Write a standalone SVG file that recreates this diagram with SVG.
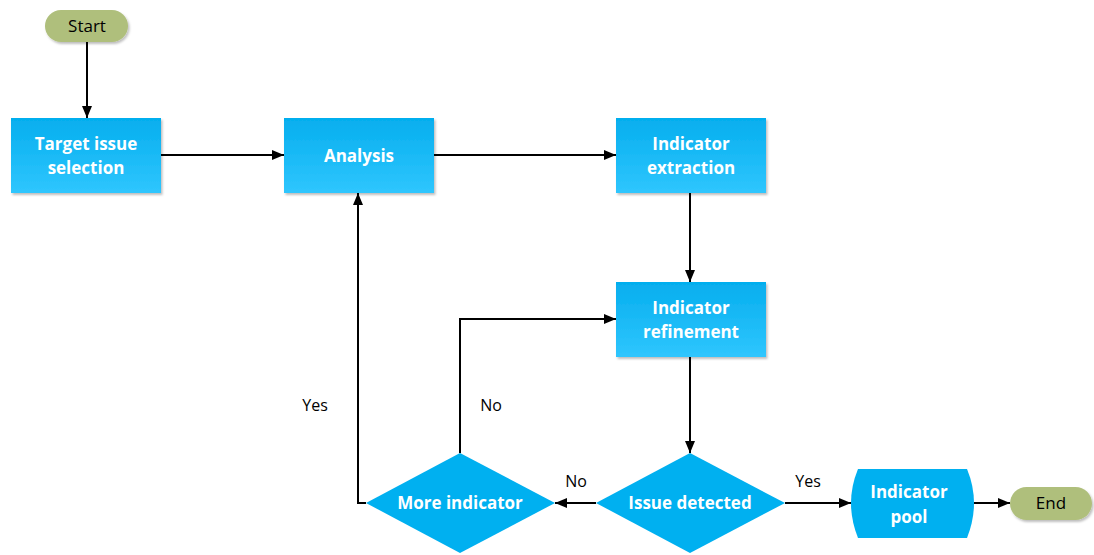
<svg xmlns="http://www.w3.org/2000/svg" width="1094" height="555" viewBox="0 0 1094 555">
  <defs>
    <linearGradient id="boxFill" x1="0" y1="0" x2="0" y2="1">
      <stop offset="0" stop-color="#05AEEE"/>
      <stop offset="1" stop-color="#2FC6FE"/>
    </linearGradient>
    <filter id="shadow" x="-20%" y="-20%" width="140%" height="160%">
      <feDropShadow dx="1.5" dy="2" stdDeviation="1.2" flood-color="#000" flood-opacity="0.25"/>
    </filter>
    <marker id="arrow" viewBox="0 0 12 10" refX="12" refY="5" markerWidth="12" markerHeight="10" markerUnits="userSpaceOnUse" orient="auto">
      <path d="M0,0 L12,5 L0,10 z" fill="#000"/>
    </marker>
  </defs>
  <style>
    .box { fill: url(#boxFill); filter: url(#shadow); }
    .dia { fill: #00B0F0; }
    .pill { fill: #AFBF7C; filter: url(#shadow); }
    .lbl { font-family: "Open Sans", "Liberation Sans", sans-serif; font-weight: 700; font-size: 17px; fill: #fff; text-anchor: middle; }
    .term { font-family: "Open Sans", "Liberation Sans", sans-serif; font-size: 17px; fill: #000; text-anchor: middle; }
    .edge { font-family: "Open Sans", "Liberation Sans", sans-serif; font-size: 16px; fill: #000; text-anchor: middle; }
    .conn { fill: none; stroke: #000; stroke-width: 2; marker-end: url(#arrow); }
  </style>

  <g id="connectors">
    <path class="conn" d="M87,42 V118"/>
    <path class="conn" d="M161,155 H284"/>
    <path class="conn" d="M434,155 H616"/>
    <path class="conn" d="M690,193 V282"/>
    <path class="conn" d="M690,357 V453"/>
    <path class="conn" d="M596,503 H555"/>
    <path class="conn" d="M785,503 H851"/>
    <path class="conn" d="M974,503 H1010"/>
    <path class="conn" d="M366,503 H358 V193"/>
    <path class="conn" d="M460,453 V319 H616"/>
    <text class="edge" x="315" y="411">Yes</text>
    <text class="edge" x="491" y="411">No</text>
    <text class="edge" x="576" y="487">No</text>
    <text class="edge" x="808" y="487">Yes</text>
  </g>

  <g id="start">
    <rect class="pill" x="45" y="10" width="83" height="32" rx="16"/>
    <text class="term" x="87" y="32">Start</text>
  </g>

  <g id="target-issue-selection">
    <rect class="box" x="11" y="118" width="150" height="75"/>
    <text class="lbl" x="86" y="150">Target issue</text>
    <text class="lbl" x="86" y="174">selection</text>
  </g>

  <g id="analysis">
    <rect class="box" x="284" y="118" width="150" height="75"/>
    <text class="lbl" x="359" y="162">Analysis</text>
  </g>

  <g id="indicator-extraction">
    <rect class="box" x="616" y="118" width="150" height="75"/>
    <text class="lbl" x="691" y="150">Indicator</text>
    <text class="lbl" x="691" y="174">extraction</text>
  </g>

  <g id="indicator-refinement">
    <rect class="box" x="616" y="282" width="150" height="75"/>
    <text class="lbl" x="691" y="314">Indicator</text>
    <text class="lbl" x="691" y="338">refinement</text>
  </g>

  <g id="issue-detected">
    <polygon class="dia" points="690,453 785,503 690,553 596,503"/>
    <text class="lbl" x="690" y="509">Issue detected</text>
  </g>

  <g id="more-indicator">
    <polygon class="dia" points="460,453 555,503 460,553 366,503"/>
    <text class="lbl" x="460" y="509">More indicator</text>
  </g>

  <g id="indicator-pool">
    <path class="dia" d="M858,469 H967 Q981,503 967,538 H858 Q844,503 858,469 Z"/>
    <text class="lbl" x="909" y="498">Indicator</text>
    <text class="lbl" x="909" y="523">pool</text>
  </g>

  <g id="end">
    <rect class="pill" x="1010" y="487" width="82" height="33" rx="16.5"/>
    <text class="term" x="1051" y="509">End</text>
  </g>
</svg>
